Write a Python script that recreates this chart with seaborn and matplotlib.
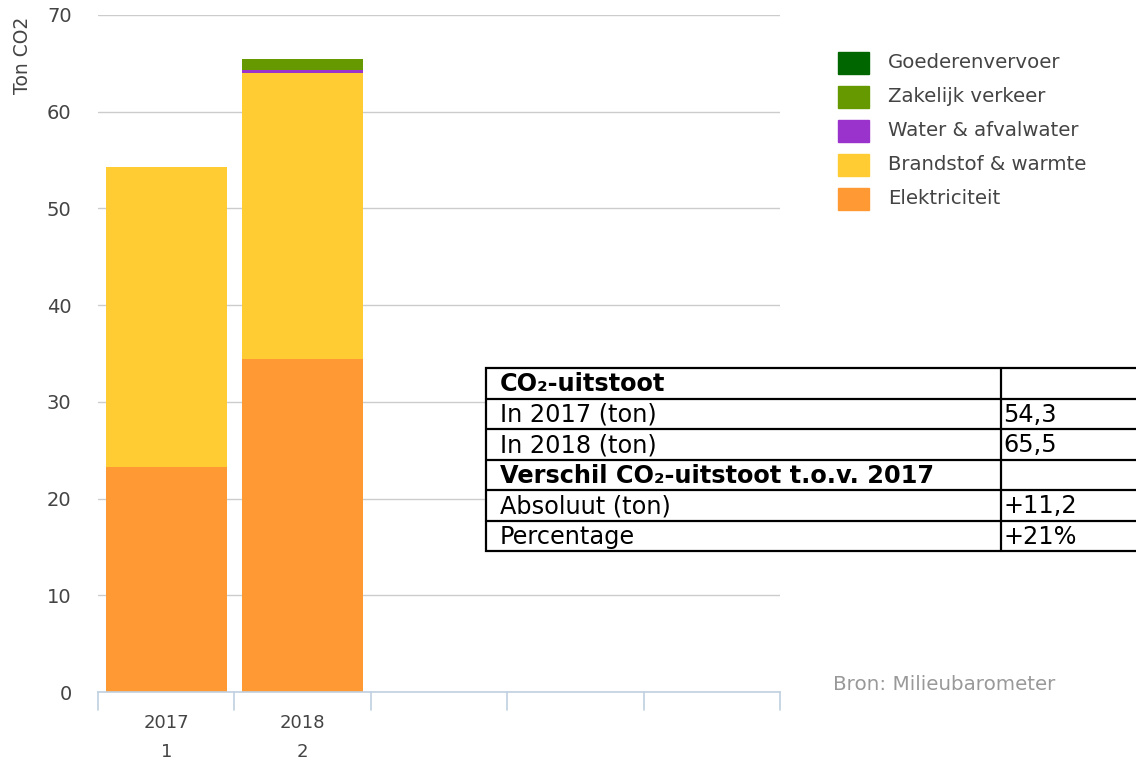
import matplotlib
matplotlib.use("Agg")
import matplotlib.pyplot as plt
import seaborn as sns
import pandas as pd
import numpy as np

sns.set_theme(style="white")
plt.rcParams['font.family'] = ['DejaVu Sans']

# ---- data ----
years = ["2017\n1", "2018\n2"]
empty_slots = ["", " ", "  "]
series = ["Elektriciteit", "Brandstof & warmte", "Water & afvalwater", "Zakelijk verkeer", "Goederenvervoer"]
elektriciteit = [23.3, 34.4]
brandstof = [31.0, 29.6]
water = [0.0, 0.3]
zakelijk = [0.0, 1.2]
goederen = [0.0, 0.0]
colors = {"Elektriciteit": "#ff9933", "Brandstof & warmte": "#ffcc33",
          "Water & afvalwater": "#9933cc", "Zakelijk verkeer": "#669900",
          "Goederenvervoer": "#006600"}
yticks = [0, 10, 20, 30, 40, 50, 60, 70]

table_rows = [("CO₂-uitstoot", "", True),
              ("In 2017 (ton)", "54,3", False),
              ("In 2018 (ton)", "65,5", False),
              ("Verschil CO₂-uitstoot t.o.v. 2017", "", True),
              ("Absoluut (ton)", "+11,2", False),
              ("Percentage", "+21%", False)]

values = {"Elektriciteit": elektriciteit, "Brandstof & warmte": brandstof,
          "Water & afvalwater": water, "Zakelijk verkeer": zakelijk,
          "Goederenvervoer": goederen}

W, H = 1136, 760
fig = plt.figure(figsize=(W / 100, H / 100), dpi=100)
ax = fig.add_axes([98 / W, (H - 692) / H, 682 / W, (692 - 15) / H])

order = years + empty_slots
bottom = np.zeros(len(years))
for s in series:
    df = pd.DataFrame({"year": years, "val": values[s]})
    sns.barplot(data=df, x="year", y="val", order=order, color=colors[s],
                bottom=bottom.copy(), width=0.89, ax=ax, saturation=1,
                linewidth=0, errorbar=None)
    bottom = bottom + np.array(values[s])

ax.set_ylim(0, 70)
ax.set_xlim(-0.5, 4.5)
ax.set_yticks(yticks)
ax.yaxis.grid(True, color="#cccccc", linewidth=1)
ax.set_axisbelow(True)
for sp in ["top", "right", "left"]:
    ax.spines[sp].set_visible(False)
ax.spines["bottom"].set_color("#c0d0e0")
ax.spines["bottom"].set_linewidth(1.2)
ax.set_xticks(range(len(order)))
ax.set_xticklabels(order)
ax.tick_params(axis="x", length=0, pad=16, labelsize=13, labelcolor="#444444")
ax.tick_params(axis="y", length=0, pad=19, labelsize=14, labelcolor="#444444")
for lab in ax.get_xticklabels():
    lab.set_linespacing(1.75)
# slot boundary ticks
for b in np.arange(-0.5, 5.0, 1.0):
    ax.plot([b, b], [0, -1.9], color="#c0d0e0", lw=1.2, clip_on=False)
ax.set_xlabel("")
ax.set_ylabel("")
fig.text(22 / W, 1 - 55 / H, "Ton CO2", rotation=90, ha="center", va="center",
         fontsize=13.5, color="#444444")

# legend
leg_series = ["Goederenvervoer", "Zakelijk verkeer", "Water & afvalwater",
              "Brandstof & warmte", "Elektriciteit"]
for i, s in enumerate(leg_series):
    yc = 63 + 34 * i
    fig.patches.append(plt.Rectangle((838 / W, 1 - (yc + 11) / H), 31 / W, 22 / H,
                                     transform=fig.transFigure, color=colors[s]))
    fig.text(888 / W, 1 - yc / H, s, ha="left", va="center", fontsize=14.2,
             color="#444444")

fig.text(833 / W, 1 - 685 / H, "Bron: Milieubarometer", ha="left", va="center",
         fontsize=14.3, color="#999999")

# table
x0, x1, xm = 486, 1160, 1001
ys = [368, 398.5, 429, 459.5, 490, 520.5, 551]
fig.patches.append(plt.Rectangle((x0 / W, 1 - 551 / H), (x1 - x0) / W, (551 - 368) / H,
                                 transform=fig.transFigure, facecolor="white",
                                 edgecolor="black", linewidth=1.6, zorder=5))
for y in ys[1:-1]:
    fig.add_artist(plt.Line2D([x0 / W, x1 / W], [1 - y / H, 1 - y / H],
                              color="black", lw=1.6, zorder=6))
fig.add_artist(plt.Line2D([xm / W, xm / W], [1 - 368 / H, 1 - 551 / H],
                          color="black", lw=1.6, zorder=6))
for i, (a, b, bold) in enumerate(table_rows):
    yc = (ys[i] + ys[i + 1]) / 2 + 1
    fig.text(500 / W, 1 - yc / H, a, ha="left", va="center", fontsize=17.3,
             fontweight="bold" if bold else "normal", color="black", zorder=7)
    if b:
        fig.text(1003 / W, 1 - yc / H, b, ha="left", va="center", fontsize=17.3,
                 color="black", zorder=7)

fig.savefig("out.png", dpi=100)
